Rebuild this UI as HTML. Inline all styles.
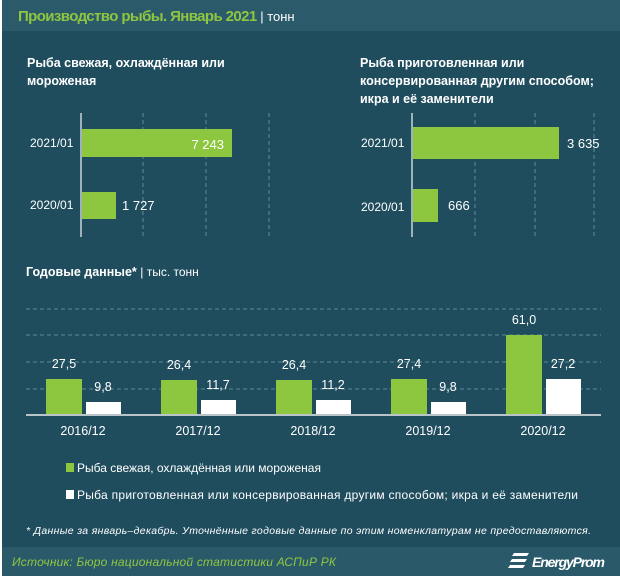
<!DOCTYPE html>
<html><head><meta charset="utf-8"><style>
body{margin:0;width:620px;height:580px;background:#fff;overflow:hidden;font-family:"Liberation Sans","DejaVu Sans",sans-serif}
#c{position:absolute;left:2px;top:0;width:618px;height:576px;background:#1f4d5e}
.t{position:absolute;white-space:nowrap;color:#fff}
</style></head><body>
<div id="c"></div>
<div style="position:absolute;left:2px;top:0;width:618px;height:31px;background:#2b5a6b"></div>
<div style="position:absolute;left:2px;top:547px;width:618px;height:29px;background:#2a5a6a"></div>
<div class="t" style="left:18px;top:8px;font-size:15px;font-weight:bold;color:#8fc641;letter-spacing:-0.6px">Производство рыбы. Январь 2021 <span style="color:#fff;font-size:13px;font-weight:normal;letter-spacing:0">| тонн</span></div>
<div class="t" style="left:27px;top:54px;font-size:12.5px;font-weight:bold;line-height:18px">Рыба свежая, охлаждённая или<br>мороженая</div>
<div class="t" style="left:360px;top:54px;font-size:12.5px;font-weight:bold;line-height:18px">Рыба приготовленная или<br>консервированная другим способом;<br>икра и её заменители</div>
<svg style="position:absolute;left:0;top:0" width="620" height="580">
<g stroke="#5f8a98" stroke-dasharray="4,3" stroke-width="1">
<line x1="143" y1="113" x2="143" y2="237"/><line x1="206" y1="113" x2="206" y2="237"/><line x1="269" y1="113" x2="269" y2="237"/>
<line x1="475" y1="113" x2="475" y2="237"/><line x1="535" y1="113" x2="535" y2="237"/><line x1="594" y1="113" x2="594" y2="237"/>
<line x1="26" y1="309" x2="601" y2="309"/><line x1="26" y1="335" x2="601" y2="335"/><line x1="26" y1="362" x2="601" y2="362"/><line x1="26" y1="389" x2="601" y2="389"/>
</g>
<line x1="81" y1="113" x2="81" y2="237" stroke="#c8d4d8" stroke-width="1.5"/>
<line x1="412" y1="113" x2="412" y2="237" stroke="#c8d4d8" stroke-width="1.5"/>
<g fill="#8dc63f">
<rect x="82" y="129" width="150" height="28"/><rect x="82" y="192" width="34" height="27"/>
<rect x="413" y="127" width="146" height="32"/><rect x="413" y="189" width="25" height="33"/>
<rect x="46" y="379" width="36" height="36"/><rect x="161" y="380" width="36" height="35"/><rect x="276" y="380" width="36" height="35"/><rect x="391" y="379" width="36" height="36"/><rect x="506" y="335" width="36" height="80"/>
<rect x="66" y="463" width="8" height="9"/>
</g>
<g fill="#fff">
<rect x="86" y="402" width="35" height="13"/><rect x="201" y="400" width="35" height="15"/><rect x="316" y="400" width="35" height="15"/><rect x="431" y="402" width="35" height="13"/><rect x="546" y="379" width="35" height="36"/>
<rect x="66" y="490" width="8" height="9"/>
</g>
<line x1="26" y1="415" x2="601" y2="415" stroke="#b8c4c8" stroke-width="2"/>
<g fill="#fff" font-size="12" font-family="Liberation Sans,sans-serif">
<text x="30" y="147">2021/01</text><text x="30" y="209">2020/01</text>
<text x="361" y="147">2021/01</text><text x="361" y="211">2020/01</text>
<text x="224" y="149" text-anchor="end" font-size="13">7 243</text><text x="122" y="210" font-size="13">1 727</text>
<text x="567" y="148" font-size="13">3 635</text><text x="448" y="210" font-size="13">666</text>
<g text-anchor="middle" font-size="12.5">
<text x="64" y="368">27,5</text><text x="103" y="391">9,8</text>
<text x="179" y="369">26,4</text><text x="218" y="389">11,7</text>
<text x="294" y="369">26,4</text><text x="333" y="389">11,2</text>
<text x="409" y="368">27,4</text><text x="448" y="391">9,8</text>
<text x="524" y="324">61,0</text><text x="563" y="368">27,2</text>
<text x="83" y="435">2016/12</text><text x="198" y="435">2017/12</text><text x="313" y="435">2018/12</text><text x="428" y="435">2019/12</text><text x="543" y="435">2020/12</text>
</g>
<text x="77" y="472">Рыба свежая, охлаждённая или мороженая</text>
<text x="77" y="499" textLength="501">Рыба приготовленная или консервированная другим способом; икра и её заменители</text>
<text x="26" y="534" font-size="10.5" font-style="italic" textLength="565">* Данные за январь–декабрь. Уточнённые годовые данные по этим номенклатурам не предоставляются.</text>
<text x="12" y="566" font-size="12" font-style="italic" fill="#8fc641" textLength="324">Источник: Бюро национальной статистики АСПиР РК</text>
<text x="532" y="567" font-size="14" font-weight="bold" font-style="italic" textLength="73">EnergyProm</text>
</g>
<g fill="#fff"><path d="M514 553h15l-2 3h-15z M512 559h15l-2 3h-15z M510 565h15l-2 3h-15z"/></g>
</svg>
<div class="t" style="left:26px;top:265px;font-size:12.5px;font-weight:bold">Годовые данные* <span style="font-weight:normal;font-size:12px">| тыс. тонн</span></div>
</body></html>
